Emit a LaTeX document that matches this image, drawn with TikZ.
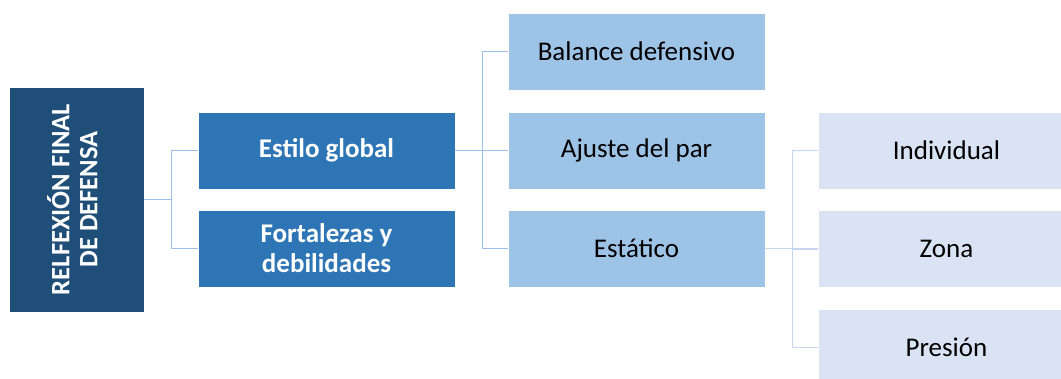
\documentclass[tikz,border=0pt]{standalone}
\usepackage{fontspec}
\setmainfont{Carlito}
\definecolor{cRoot}{HTML}{1F4E79}
\definecolor{cOne}{HTML}{2E75B6}
\definecolor{cTwo}{HTML}{9DC3E6}
\definecolor{cThree}{HTML}{DAE3F3}
\definecolor{cLineA}{HTML}{9DBEE6}
\definecolor{cLineB}{HTML}{C6D6EE}
\tikzset{
  box/.style={rectangle, draw=white, line width=0.6pt, minimum width=257pt, minimum height=77pt, inner sep=0pt, align=center, font=\fontsize{27}{30}\selectfont},
  rootbox/.style={box, fill=cRoot, minimum width=135pt, minimum height=225pt, text=white, font=\bfseries\fontsize{26.5}{28}\selectfont},
  lvlone/.style={box, fill=cOne, text=white, font=\bfseries\fontsize{27}{30}\selectfont},
  lvltwo/.style={box, fill=cTwo, text=black},
  lvlthree/.style={box, fill=cThree, text=black},
  linkA/.style={draw=cLineA, line width=1.5pt},
  linkB/.style={draw=cLineB, line width=1.5pt}
}
\begin{document}
\begin{tikzpicture}[x=1pt,y=-1pt]
\useasboundingbox (0,0) rectangle (1061,379);
\clip (0,0) rectangle (1061,379);
\fill[white] (0,0) rectangle (1061,379);
\node[rootbox] (root) at (76.5,199.5) {\rotatebox{90}{\begin{tabular}{@{}c@{}}RELFEXIÓN FINAL\\DE DEFENSA\end{tabular}}};
\node[lvlone] (est) at (326.5,150.5) {Estilo global};
\node[lvlone] (fort) at (326.5,248.5) {Fortalezas y\\debilidades};
\node[lvltwo] (bal) at (636.5,51.5) {Balance defensivo};
\node[lvltwo] (aju) at (636.5,150.5) {Ajuste del par};
\node[lvltwo] (sta) at (636.5,248.5) {Estático};
\node[lvlthree] (ind) at (946.5,150.5) {Individual};
\node[lvlthree] (zon) at (946.5,249) {Zona};
\node[lvlthree] (pre) at (946.5,347.5) {Presión};
\draw[linkA] (root.east) -- ++(27,0) |- (est.west);
\draw[linkA] (root.east) -- ++(27,0) |- (fort.west);
\draw[linkA] (est.east) -- ++(27,0) |- (bal.west);
\draw[linkA] (est.east) -- ++(27,0) |- (aju.west);
\draw[linkA] (est.east) -- ++(27,0) |- (sta.west);
\draw[linkB] (sta.east) -- ++(27,0) |- (ind.west);
\draw[linkB] (sta.east) -- ++(27,0) |- (zon.west);
\draw[linkB] (sta.east) -- ++(27,0) |- (pre.west);
\end{tikzpicture}
\end{document}
